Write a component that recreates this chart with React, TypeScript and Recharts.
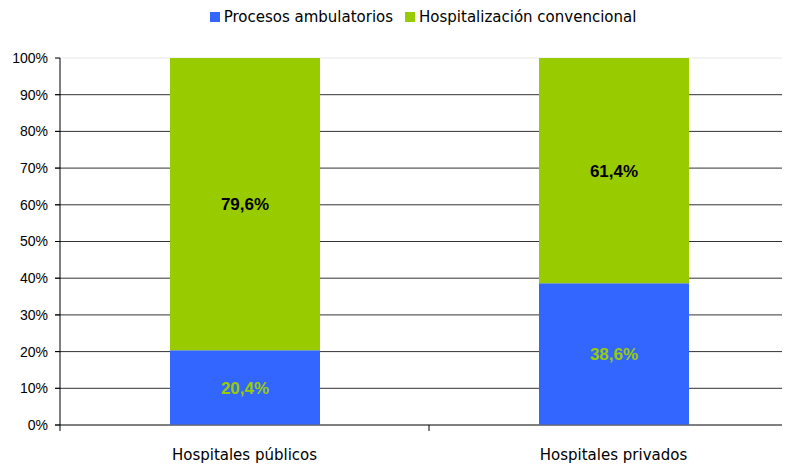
import { BarChart, Bar, XAxis, YAxis, CartesianGrid, Legend, LabelList } from 'recharts';

const categories = ['Hospitales públicos', 'Hospitales privados'];
const seriesNames = ['Procesos ambulatorios', 'Hospitalización convencional'];
const ambulatorios = [20.4, 38.6];
const convencional = [79.6, 61.4];
const yTicks = [0, 10, 20, 30, 40, 50, 60, 70, 80, 90, 100];

const data = categories.map((name, i) => ({
  name,
  ambulatorios: ambulatorios[i],
  convencional: convencional[i],
}));

const BLUE = '#3366FF';
const GREEN = '#99CC00';
const textFont = '"DejaVu Sans", Verdana, sans-serif';
const numFont = '"Liberation Sans", Arial, sans-serif';

const fmt = (v: any) => `${Number(v).toFixed(1).replace('.', ',')}%`;

const renderLegend = (props: any) => {
  const items = [...(props.payload || [])].sort(
    (a: any, b: any) => seriesNames.indexOf(a.value) - seriesNames.indexOf(b.value)
  );
  return (
    <div style={{ display: 'flex', justifyContent: 'center', fontFamily: textFont, fontSize: 15, color: '#000', lineHeight: 'normal' }}>
      {items.map((e: any) => (
        <span key={e.value} style={{ display: 'flex', alignItems: 'center', marginRight: 12 }}>
          <span style={{ width: 10, height: 10, background: e.color, marginRight: 4, display: 'inline-block' }} />
          {e.value}
        </span>
      ))}
    </div>
  );
};

const CategoryTick = (props: any) => {
  const { x, y, payload, index, visibleTicksCount } = props;
  const half = payload.offset || 0;
  const last = index === (visibleTicksCount ?? categories.length) - 1;
  return (
    <g>
      <line x1={x - half} x2={x - half} y1={y - 8} y2={y - 2} stroke="#000" />
      {last && <line x1={x + half} x2={x + half} y1={y - 8} y2={y - 2} stroke="#000" />}
      <text x={x} y={y + 27} textAnchor="middle" fontFamily={textFont} fontSize={15} fill="#000">
        {payload.value}
      </text>
    </g>
  );
};

const gridLine = (props: any) => {
  const { x1, x2, y1, y2, y } = props;
  const top = Math.abs(y1 - y) < 1;
  return <line key={props.key} x1={x1 - 5} x2={x2} y1={y1} y2={y2} stroke={top ? '#e8e8e8' : '#333'} strokeWidth={1} />;
};

export default function App() {
  return (
    <div style={{ marginTop: -8, marginLeft: -8, width: 790, height: 467, overflow: 'hidden', background: '#fff' }}>
      <BarChart width={800} height={467} data={data} margin={{ top: 58, right: 2, bottom: 0, left: 0 }} barSize={150}>
        <CartesianGrid vertical={false} horizontal={gridLine} />
        <Legend
          verticalAlign="middle"
          align="center"
          layout="horizontal"
          content={renderLegend}
          wrapperStyle={{ top: 8, left: 54, width: 750 }}
        />
        <XAxis
          dataKey="name"
          height={42}
          tickLine={false}
          axisLine={{ stroke: '#666' }}
          tick={<CategoryTick />}
          interval={0}
        />
        <YAxis
          width={60}
          domain={[0, 100]}
          ticks={yTicks}
          interval={0}
          tickFormatter={(v) => `${v}%`}
          tickSize={5}
          tickMargin={7}
          tickLine={{ stroke: '#000' }}
          axisLine={{ stroke: '#000' }}
          tick={{ fill: '#000', fontSize: 14, fontFamily: numFont }}
        />
        <Bar dataKey="ambulatorios" name={seriesNames[0]} stackId="a" fill={BLUE} isAnimationActive={false}>
          <LabelList dataKey="ambulatorios" position="center" formatter={fmt} fill={GREEN} fontSize={17} fontWeight="bold" fontFamily={numFont} />
        </Bar>
        <Bar dataKey="convencional" name={seriesNames[1]} stackId="a" fill={GREEN} isAnimationActive={false}>
          <LabelList dataKey="convencional" position="center" formatter={fmt} fill="#000" fontSize={17} fontWeight="bold" fontFamily={numFont} />
        </Bar>
      </BarChart>
    </div>
  );
}
